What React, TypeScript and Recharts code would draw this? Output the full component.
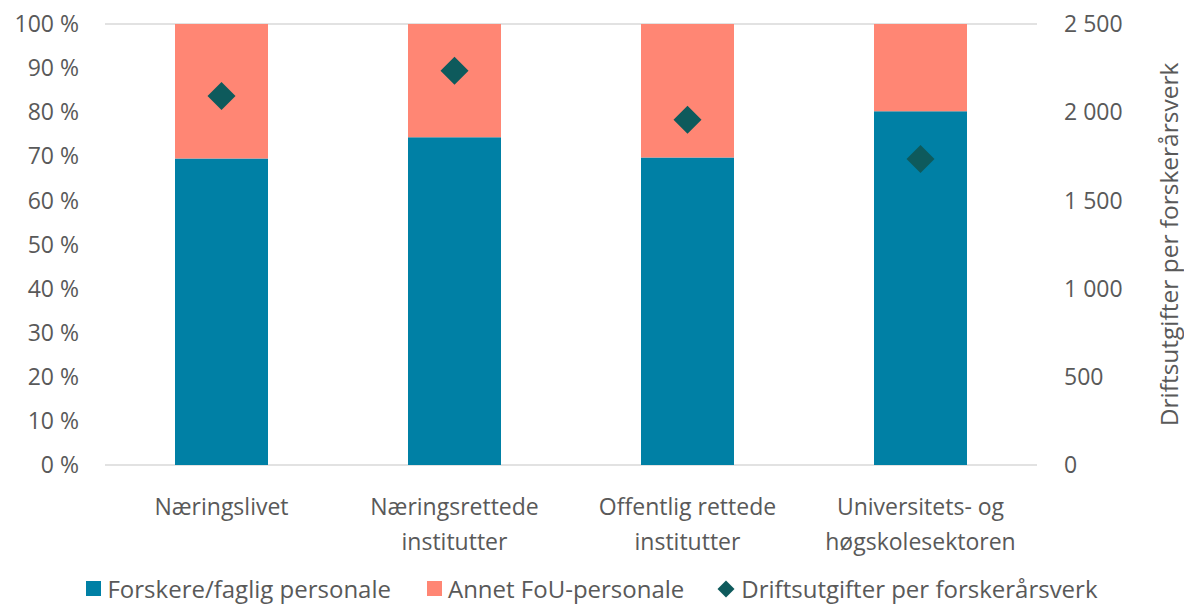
import { ComposedChart, Bar, Scatter, XAxis, YAxis, CartesianGrid, Label } from 'recharts'

const categories = [
  'Næringslivet',
  'Næringsrettede\ninstitutter',
  'Offentlig rettede\ninstitutter',
  'Universitets- og\nhøgskolesektoren',
]
const forskere = [69.5, 74.3, 69.7, 80.2]
const annet = [30.5, 25.7, 30.3, 19.8]
const drift = [2092, 2235, 1957, 1735]
const leftTicks = [0, 10, 20, 30, 40, 50, 60, 70, 80, 90, 100]
const rightTicks = [0, 500, 1000, 1500, 2000, 2500]

const data = categories.map((name, i) => ({
  name,
  forskere: forskere[i],
  annet: annet[i],
  drift: drift[i],
}))

const FONT = '"Open Sans", sans-serif'
const GREY = '#595959'
const TEAL = '#0080A5'
const SALMON = '#FF8674'
const DARK = '#0E5A5C'

const fmtThousands = (v: number) => String(v).replace(/\B(?=(\d{3})+(?!\d))/g, ' ')

function CategoryTick(props: any) {
  const { x, y, payload } = props
  const lines = String(payload.value).split('\n')
  return (
    <text x={x} y={y} textAnchor="middle" fill={GREY} fontSize={23} fontFamily={FONT}>
      {lines.map((l, i) => (
        <tspan key={i} x={x} dy={i === 0 ? 42 : 35}>
          {l}
        </tspan>
      ))}
    </text>
  )
}

function Diamond(props: any) {
  const { cx, cy } = props
  const r = 14
  return <polygon points={`${cx},${cy - r} ${cx + r},${cy} ${cx},${cy + r} ${cx - r},${cy}`} fill={DARK} />
}

function RightLabel(props: any) {
  const { viewBox } = props
  const x = viewBox.x + viewBox.width - 16
  const y = viewBox.y + viewBox.height / 2
  return (
    <text x={x} y={y} transform={`rotate(-90, ${x}, ${y})`} textAnchor="middle" dominantBaseline="central" fill={GREY} fontSize={24.5} fontFamily={FONT}>
      Driftsutgifter per forskerårsverk
    </text>
  )
}

function LegendRow() {
  const item = { display: 'flex', alignItems: 'center', marginRight: 36 }
  return (
    <div style={{ position: 'absolute', left: 0, top: 572, width: 1184, height: 33, display: 'flex', justifyContent: 'center', fontFamily: FONT, fontSize: 24, lineHeight: '33px', color: GREY, whiteSpace: 'nowrap' }}>
      <div style={item}>
        <span style={{ width: 15, height: 15, background: TEAL, marginRight: 6 }} />
        Forskere/faglig personale
      </div>
      <div style={item}>
        <span style={{ width: 15, height: 15, background: SALMON, marginRight: 6 }} />
        Annet FoU-personale
      </div>
      <div style={{ ...item, marginRight: 0 }}>
        <span style={{ width: 12, height: 12, background: DARK, transform: 'rotate(45deg)', marginRight: 9 }} />
        Driftsutgifter per forskerårsverk
      </div>
    </div>
  )
}

export default function App() {
  return (
    <div style={{ position: 'relative', width: 1184, height: 606, background: '#fff', overflow: 'hidden' }}>
      <style>{'body{margin:0}'}</style>
      <ComposedChart width={1184} height={606} data={data} margin={{ top: 24, right: 0, left: 0, bottom: 0 }}>
        <CartesianGrid vertical={false} stroke="#d9d9d9" strokeWidth={1.5} />
        <XAxis dataKey="name" axisLine={false} tickLine={false} tick={<CategoryTick />} interval={0} height={141} />
        <YAxis
          yAxisId="left"
          domain={[0, 100]}
          ticks={leftTicks}
          width={105}
          axisLine={false}
          tickLine={false}
          tickMargin={20}
          tickFormatter={(v: number) => `${v} %`}
          tick={{ fill: GREY, fontSize: 23, fontFamily: FONT }}
        />
        <YAxis
          yAxisId="right"
          orientation="right"
          domain={[0, 2500]}
          ticks={rightTicks}
          width={147}
          axisLine={false}
          tickLine={false}
          tickMargin={21}
          tickFormatter={fmtThousands}
          tick={{ fill: GREY, fontSize: 23, fontFamily: FONT, textAnchor: 'start' }}
        >
          <Label content={<RightLabel />} />
        </YAxis>
        <Bar yAxisId="left" dataKey="forskere" stackId="a" fill={TEAL} barSize={93} isAnimationActive={false} />
        <Bar yAxisId="left" dataKey="annet" stackId="a" fill={SALMON} barSize={93} isAnimationActive={false} />
        <Scatter yAxisId="right" dataKey="drift" fill={DARK} shape={<Diamond />} isAnimationActive={false} />
      </ComposedChart>
      <LegendRow />
    </div>
  )
}
